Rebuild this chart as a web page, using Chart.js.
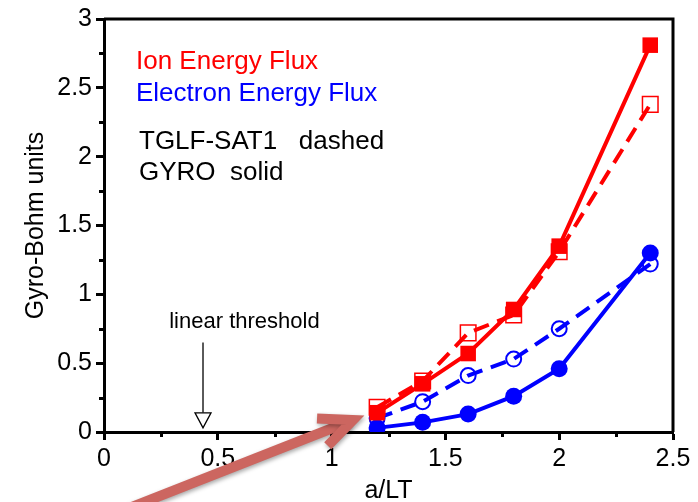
<!DOCTYPE html>
<html>
<head>
<meta charset="utf-8">
<script src="https://cdn.jsdelivr.net/npm/chart.js@4/dist/chart.umd.min.js"></script>
<style>
  html, body { margin: 0; padding: 0; background: #fff; }
  #wrap { width: 698px; height: 502px; }
</style>
</head>
<body>
<div id="wrap"><canvas id="fluxChart" width="698" height="502"></canvas></div>
<script>
// a/LT scan points
const aLT = [1.2, 1.4, 1.6, 1.8, 2.0, 2.4];
// Gyro-Bohm normalised fluxes
const ionGyro  = [0.14, 0.35, 0.57, 0.89, 1.35, 2.81];
const ionTglf  = [0.18, 0.37, 0.72, 0.85, 1.31, 2.38];
const elecGyro = [0.03, 0.07, 0.13, 0.26, 0.46, 1.30];
const elecTglf = [0.10, 0.22, 0.41, 0.53, 0.75, 1.22];

const xTicks = [0, 0.5, 1, 1.5, 2, 2.5];
const yTicks = [0, 0.5, 1, 1.5, 2, 2.5, 3];
const xMinor = [0.25, 0.75, 1.25, 1.75, 2.25];
const yMinor = [0.25, 0.75, 1.25, 1.75, 2.25, 2.75];

const legendLines = ['Ion Energy Flux', 'Electron Energy Flux', 'TGLF-SAT1   dashed', 'GYRO  solid'];

const RED = 'rgb(255,0,0)';
const BLUE = 'rgb(0,0,255)';
const FONT = '"Liberation Sans", Arial, Helvetica, sans-serif';

function pts(ys) {
  return aLT.map((x, i) => ({ x: x, y: ys[i] }));
}

// extra drawing: frame, minor ticks, annotations, text legend
const extras = {
  id: 'extras',
  afterDraw(chart) {
    const ctx = chart.ctx;
    const a = chart.chartArea;
    const xs = chart.scales.x, ys = chart.scales.y;
    ctx.save();

    // top and right frame
    ctx.strokeStyle = '#000';
    ctx.lineWidth = 3;
    ctx.beginPath();
    ctx.moveTo(a.left, a.top);
    ctx.lineTo(a.right, a.top);
    ctx.lineTo(a.right, a.bottom);
    ctx.stroke();

    // minor ticks
    ctx.lineWidth = 3;
    ctx.beginPath();
    xMinor.forEach(v => {
      const px = Math.round(xs.getPixelForValue(v)) + 0.5;
      ctx.moveTo(px, a.bottom);
      ctx.lineTo(px, a.bottom + 5);
    });
    yMinor.forEach(v => {
      const py = Math.round(ys.getPixelForValue(v)) + 0.5;
      ctx.moveTo(a.left, py);
      ctx.lineTo(a.left - 5, py);
    });
    ctx.stroke();

    // linear threshold marker
    const tx = xs.getPixelForValue(0.435);
    const tipY = ys.getPixelForValue(0.03);
    const topY = ys.getPixelForValue(0.65);
    ctx.lineWidth = 1.3;
    ctx.beginPath();
    ctx.moveTo(tx, topY);
    ctx.lineTo(tx, tipY - 15);
    ctx.stroke();
    ctx.beginPath();
    ctx.moveTo(tx - 8, tipY - 15);
    ctx.lineTo(tx + 8, tipY - 15);
    ctx.lineTo(tx, tipY);
    ctx.closePath();
    ctx.fillStyle = '#fff';
    ctx.fill();
    ctx.stroke();
    ctx.fillStyle = '#000';
    ctx.font = '22px ' + FONT;
    ctx.textAlign = 'center';
    ctx.textBaseline = 'middle';
    ctx.fillText('linear threshold', xs.getPixelForValue(0.617), ys.getPixelForValue(0.80));

    // text legend
    ctx.textAlign = 'left';
    ctx.textBaseline = 'alphabetic';
    ctx.font = '26px ' + FONT;
    ctx.fillStyle = RED;
    ctx.fillText(legendLines[0], 136, 69);
    ctx.fillStyle = BLUE;
    ctx.fillText(legendLines[1], 136, 101);
    ctx.fillStyle = '#000';
    ctx.fillText(legendLines[2], 139, 149);
    ctx.fillText(legendLines[3], 139, 180);

    // big pointer arrow
    const hx = xs.getPixelForValue(1.094), hy = ys.getPixelForValue(0.087);
    const bx = xs.getPixelForValue(0.114), by = ys.getPixelForValue(-0.55);
    const ang = Math.atan2(by - hy, bx - hx);
    const hl = 36, spread = 0.42;
    ctx.strokeStyle = 'rgb(204,102,96)';
    ctx.lineWidth = 10;
    ctx.lineCap = 'butt';
    ctx.lineJoin = 'miter';
    ctx.shadowColor = 'rgba(0,0,0,0.35)';
    ctx.shadowBlur = 4;
    ctx.shadowOffsetX = 1;
    ctx.shadowOffsetY = 2;
    ctx.beginPath();
    ctx.moveTo(bx, by);
    ctx.lineTo(hx - 4 * Math.cos(ang + Math.PI), hy - 4 * Math.sin(ang + Math.PI));
    ctx.stroke();
    ctx.beginPath();
    ctx.moveTo(hx + hl * Math.cos(ang - spread), hy + hl * Math.sin(ang - spread));
    ctx.lineTo(hx, hy);
    ctx.lineTo(hx + hl * Math.cos(ang + spread), hy + hl * Math.sin(ang + spread));
    ctx.stroke();

    ctx.restore();
  }
};

const ctx = document.getElementById('fluxChart').getContext('2d');
new Chart(ctx, {
  type: 'line',
  data: {
    datasets: [
      {
        label: 'Ion GYRO',
        data: pts(ionGyro),
        borderColor: RED,
        backgroundColor: RED,
        borderWidth: 4,
        pointStyle: 'rect',
        pointRadius: 11,
        pointBackgroundColor: RED,
        pointBorderWidth: 0
      },
      {
        label: 'Ion TGLF',
        data: pts(ionTglf),
        borderColor: RED,
        borderWidth: 4,
        borderDash: [16, 9],
        pointStyle: 'rect',
        pointRadius: 11,
        pointBackgroundColor: 'rgba(255,255,255,0)',
        pointBorderColor: RED,
        pointBorderWidth: 1.5
      },
      {
        label: 'Electron GYRO',
        data: pts(elecGyro),
        borderColor: BLUE,
        borderWidth: 4,
        pointStyle: 'circle',
        pointRadius: 8.5,
        pointBackgroundColor: BLUE,
        pointBorderWidth: 0
      },
      {
        label: 'Electron TGLF',
        data: pts(elecTglf),
        borderColor: BLUE,
        borderWidth: 4,
        borderDash: [16, 9],
        pointStyle: 'circle',
        pointRadius: 7.5,
        pointBackgroundColor: 'rgba(255,255,255,0)',
        pointBorderColor: BLUE,
        pointBorderWidth: 2
      }
    ]
  },
  options: {
    responsive: false,
    animation: false,
    layout: { padding: { top: 18, right: 25, left: 0, bottom: 0 } },
    plugins: {
      legend: { display: false },
      tooltip: { enabled: false }
    },
    scales: {
      x: {
        type: 'linear',
        min: 0,
        max: 2.5,
        afterFit(s) { s.height = 70; },
        afterBuildTicks(s) { s.ticks = xTicks.map(v => ({ value: v })); },
        border: { display: true, color: '#000', width: 3 },
        grid: { drawOnChartArea: false, color: '#000', tickLength: 8, tickWidth: 3 },
        ticks: {
          color: '#000',
          padding: 4,
          maxRotation: 0,
          font: { family: FONT, size: 25 },
          callback: v => String(v)
        },
        title: {
          display: true,
          text: 'a/LT',
          color: '#000',
          padding: 0,
          font: { family: FONT, size: 25, lineHeight: 0.9 }
        }
      },
      y: {
        type: 'linear',
        min: 0,
        max: 3,
        afterFit(s) { s.width = 104; },
        afterBuildTicks(s) { s.ticks = yTicks.map(v => ({ value: v })); },
        border: { display: true, color: '#000', width: 3 },
        grid: { drawOnChartArea: false, color: '#000', tickLength: 8, tickWidth: 3 },
        ticks: {
          color: '#000',
          padding: 4,
          font: { family: FONT, size: 25 },
          callback: v => String(v)
        },
        title: {
          display: true,
          text: 'Gyro-Bohm units',
          color: '#000',
          padding: { top: 21, bottom: 0 },
          font: { family: FONT, size: 25, lineHeight: 1.2 }
        }
      }
    }
  },
  plugins: [extras]
});
</script>
</body>
</html>
